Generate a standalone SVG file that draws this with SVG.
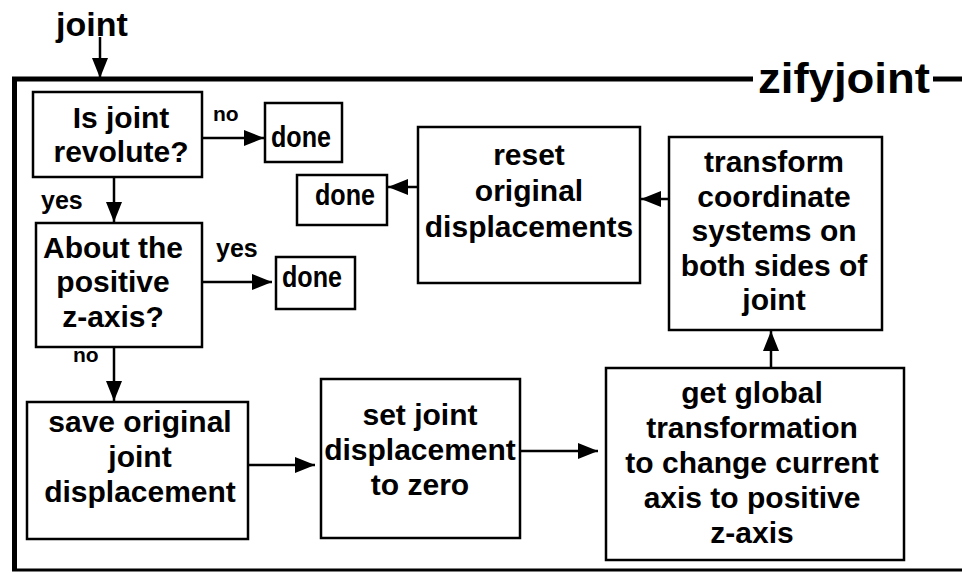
<svg xmlns="http://www.w3.org/2000/svg" width="962" height="573" viewBox="0 0 962 573">
<style>
.box{fill:#fff;stroke:#000;stroke-width:2.5}
.t{font-family:"Liberation Sans",Arial,sans-serif;font-weight:bold;font-size:30px;fill:#000;text-anchor:middle}
.lbl{font-family:"Liberation Sans",Arial,sans-serif;font-weight:bold;fill:#000}
.c{fill:none;stroke:#000;stroke-width:2.5}
.frame{fill:none;stroke:#000}
</style>
<defs>
<marker id="ah" markerUnits="userSpaceOnUse" markerWidth="20" markerHeight="16" refX="20" refY="8" orient="auto">
<path d="M0,0 L20,8 L0,16 z" fill="#000"/>
</marker>
</defs>
<rect width="962" height="573" fill="#fff"/>
<g id="frame">
<path class="frame" stroke-width="5" d="M12,79 H753 M933,79 H962"/>
<path class="frame" stroke-width="5" d="M14.5,77 V571"/>
<path class="frame" stroke-width="3" d="M12,570 H962"/>
<text class="lbl" x="758" y="93" font-size="42" textLength="172" lengthAdjust="spacingAndGlyphs">zifyjoint</text>
</g>
<g id="input-label">
<text class="lbl" x="92" y="36" font-size="34" text-anchor="middle">joint</text>
</g>
<g id="connectors">
<path class="c" d="M100,37 V78" marker-end="url(#ah)"/>
<path class="c" d="M202,138 H264" marker-end="url(#ah)"/>
<path class="c" d="M114,177 V222" marker-end="url(#ah)"/>
<path class="c" d="M202,282 H272" marker-end="url(#ah)"/>
<path class="c" d="M114,347 V401" marker-end="url(#ah)"/>
<path class="c" d="M248,465 H315" marker-end="url(#ah)"/>
<path class="c" d="M520,451 H598" marker-end="url(#ah)"/>
<path class="c" d="M771,368 V331" marker-end="url(#ah)"/>
<path class="c" d="M669,199 H641" marker-end="url(#ah)"/>
<path class="c" d="M418,187 H388" marker-end="url(#ah)"/>
<text class="lbl" x="213" y="121" font-size="21">no</text>
<text class="lbl" x="41" y="209" font-size="25">yes</text>
<text class="lbl" x="216" y="257" font-size="25">yes</text>
<text class="lbl" x="73" y="362" font-size="21">no</text>
</g>
<g id="revolute">
<rect class="box" x="33" y="92" width="169" height="85"/>
<text class="t" x="121" y="128">Is joint</text>
<text class="t" x="121" y="162">revolute?</text>
</g>
<g id="done1">
<rect class="box" x="265" y="103" width="77" height="59"/>
<text class="t" x="301" y="147" font-size="28" textLength="60" lengthAdjust="spacingAndGlyphs">done</text>
</g>
<g id="done2">
<rect class="box" x="297" y="175" width="90" height="50"/>
<text class="t" x="345" y="205" font-size="28" textLength="60" lengthAdjust="spacingAndGlyphs">done</text>
</g>
<g id="done3">
<rect class="box" x="276" y="257" width="79" height="52"/>
<text class="t" x="312" y="287" font-size="28" textLength="60" lengthAdjust="spacingAndGlyphs">done</text>
</g>
<g id="positive-z">
<rect class="box" x="36" y="223" width="166" height="124"/>
<text class="t" x="113" y="258">About the</text>
<text class="t" x="113" y="292">positive</text>
<text class="t" x="113" y="327">z-axis?</text>
</g>
<g id="save">
<rect class="box" x="27" y="402" width="221" height="137"/>
<text class="t" x="140" y="432">save original</text>
<text class="t" x="140" y="467">joint</text>
<text class="t" x="140" y="502">displacement</text>
</g>
<g id="set-zero">
<rect class="box" x="321" y="379" width="199" height="159"/>
<text class="t" x="420" y="425">set joint</text>
<text class="t" x="420" y="460">displacement</text>
<text class="t" x="420" y="495">to zero</text>
</g>
<g id="global">
<rect class="box" x="606" y="368" width="298" height="192"/>
<text class="t" x="752" y="403">get global</text>
<text class="t" x="752" y="438">transformation</text>
<text class="t" x="752" y="473">to change current</text>
<text class="t" x="752" y="508">axis to positive</text>
<text class="t" x="752" y="543">z-axis</text>
</g>
<g id="transform">
<rect class="box" x="669" y="137" width="213" height="193"/>
<text class="t" x="774" y="172">transform</text>
<text class="t" x="774" y="207">coordinate</text>
<text class="t" x="774" y="241">systems on</text>
<text class="t" x="774" y="276">both sides of</text>
<text class="t" x="774" y="310">joint</text>
</g>
<g id="reset">
<rect class="box" x="418" y="127" width="222" height="156"/>
<text class="t" x="529" y="165">reset</text>
<text class="t" x="529" y="201">original</text>
<text class="t" x="529" y="237">displacements</text>
</g>
</svg>
